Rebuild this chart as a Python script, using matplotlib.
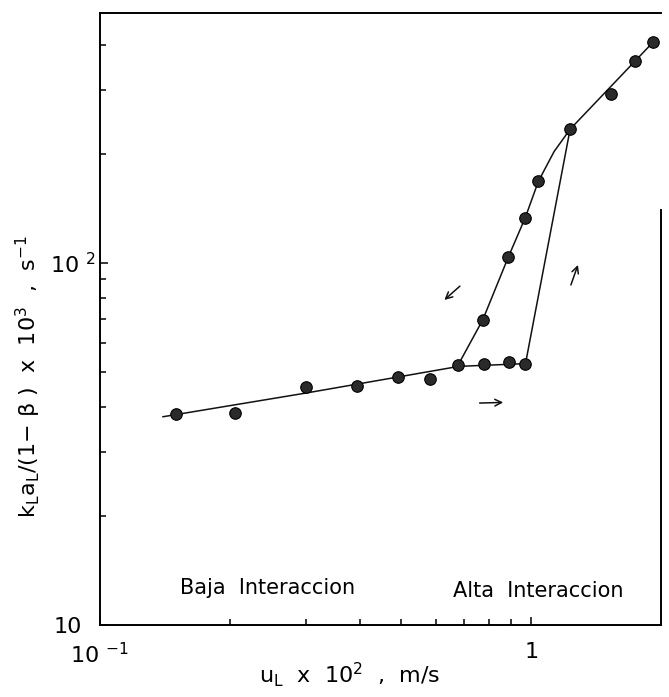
import numpy as np
import matplotlib
matplotlib.use('Agg')
import matplotlib.pyplot as plt
import matplotlib.transforms as mtransforms
from matplotlib.ticker import FixedLocator, NullFormatter

plt.rcParams['font.family'] = 'DejaVu Sans'
plt.rcParams['mathtext.default'] = 'regular'

# low interaction branch (measured points)
low_x = [0.150, 0.206, 0.300, 0.395, 0.490, 0.583, 0.676, 0.777, 0.888, 0.97]
low_y = [38.3, 38.6, 45.3, 45.7, 48.4, 47.7, 52.1, 52.6, 53.2, 52.7]

# high interaction branch (measured points)
high_x = [0.772, 0.885, 0.969, 1.039, 1.231, 1.534, 1.737, 1.917]
high_y = [69.6, 103.8, 133.4, 168.0, 234.0, 292.0, 360.0, 407.0]

# drawn curves
fit_low_x = [0.14, 0.30, 0.68, 0.97]
fit_low_y = [37.6, 43.7, 51.8, 52.7]
dec_x = [0.676, 0.772, 0.885, 0.969, 1.039, 1.13, 1.231, 1.917]
dec_y = [52.1, 69.6, 103.8, 133.4, 168.0, 203.0, 234.0, 407.0]
rise_x = [0.97, 1.231]
rise_y = [52.7, 234.0]

fig = plt.figure(figsize=(6.69, 6.97), dpi=100)
ax = fig.add_axes([100/669, 1 - 625/697, 561/669, 612/697])
ax.set_xscale('log')
ax.set_yscale('log')
ax.set_xlim(0.1, 2.0)
ax.set_ylim(10, 490)

lc = '#111111'
ax.plot(fit_low_x, fit_low_y, color=lc, lw=1.1)
ax.plot(dec_x, dec_y, color=lc, lw=1.1)
ax.plot(rise_x, rise_y, color=lc, lw=1.1)
ax.plot(low_x, low_y, 'o', ms=8.3, mfc='#2a2a2a', mec='black', mew=0.8, ls='none')
ax.plot(high_x, high_y, 'o', ms=8.3, mfc='#2a2a2a', mec='black', mew=0.8, ls='none')

# direction arrows
arr = dict(arrowstyle='->', lw=1.1, color=lc, mutation_scale=12)
ax.annotate('', xy=(0.622, 78.1), xytext=(0.691, 87.3), arrowprops=arr)
ax.annotate('', xy=(1.29, 100.4), xytext=(1.23, 85.5), arrowprops=arr)
ax.annotate('', xy=(0.874, 41.2), xytext=(0.748, 41.0), arrowprops=arr)

ax.text(0.153, 12.65, 'Baja  Interaccion', fontsize=15, ha='left', va='center')
ax.text(0.657, 12.43, 'Alta  Interaccion', fontsize=15, ha='left', va='center')

# ticks
ax.xaxis.set_major_locator(FixedLocator([0.1, 1.0]))
ax.xaxis.set_minor_locator(FixedLocator([0.2, 0.3, 0.4, 0.5, 0.6, 0.7, 0.8, 0.9]))
ax.set_xticklabels([r'10 $^{-1}$', '1'])
ax.xaxis.set_minor_formatter(NullFormatter())
ax.yaxis.set_major_locator(FixedLocator([10, 100]))
ax.yaxis.set_minor_locator(FixedLocator([20, 30, 40, 50, 60, 70, 80, 90, 200, 300, 400]))
ax.set_yticklabels(['10', r'10 $^{2}$'])
ax.yaxis.set_minor_formatter(NullFormatter())
ax.tick_params(which='both', direction='in', top=False, right=False, labelsize=16, width=1.1)
ax.tick_params(which='major', length=6)
ax.tick_params(which='minor', length=4.5)
ax.tick_params(axis='x', pad=12)
ax.tick_params(axis='y', pad=3)

# bottom "10" sits further left in the original
shift = mtransforms.ScaledTranslation(-14/100, 0, fig.dpi_scale_trans)
lbl = ax.get_yticklabels()[0]
lbl.set_transform(lbl.get_transform() + shift)

for s in ax.spines.values():
    s.set_linewidth(1.4)
ax.spines['right'].set_bounds(10, 140)

fig.text(28/669, 1 - 377/697, r'k$_L$a$_L$/(1$-$ $\beta$ )  x  10$^3$  ,  s$^{-1}$',
         rotation=90, ha='center', va='center', fontsize=16)
fig.text(350/669, 1 - 675/697, r'u$_L$  x  10$^2$  ,  m/s', ha='center', va='center', fontsize=16)

fig.savefig('out.png', dpi=100)
